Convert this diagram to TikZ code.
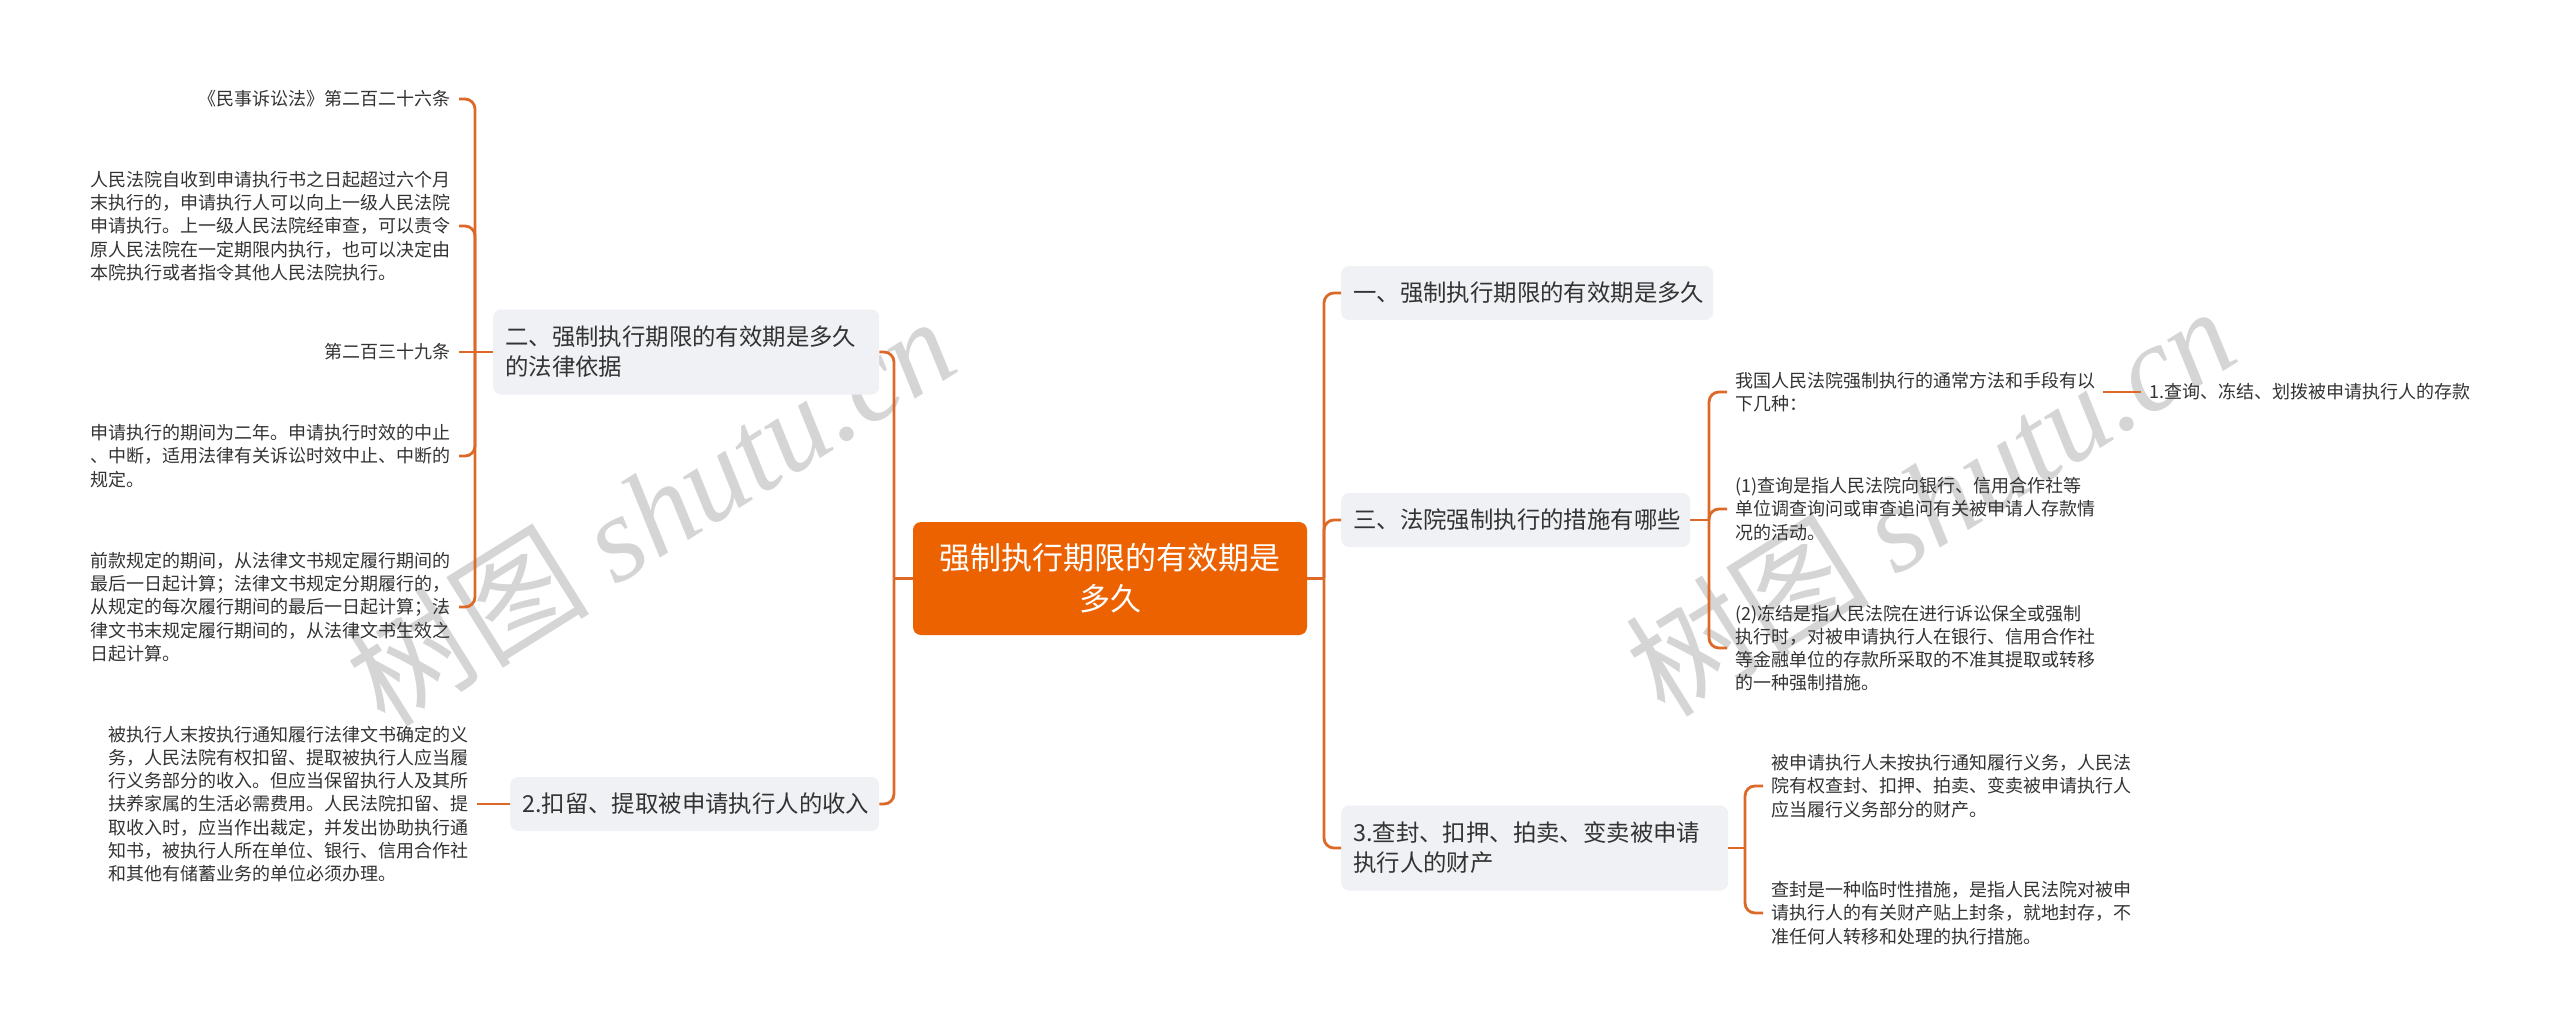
\documentclass[tikz,border=0pt]{standalone}
\usepackage{fontspec}
\setmainfont{Noto Sans CJK SC}
\newfontfamily\wmserif{Liberation Serif}
\definecolor{conncol}{RGB}{221,105,40}
\definecolor{rootcol}{RGB}{236,98,0}
\definecolor{boxcol}{RGB}{239,241,244}
\definecolor{txt}{RGB}{51,51,51}
\definecolor{wmcol}{RGB}{200,200,200}
\begin{document}
\begin{tikzpicture}[x=1bp,y=-1bp,
  conn/.style={draw=conncol, line width=2.8bp, rounded corners=10bp},
  root/.style={fill=rootcol, text=white, rounded corners=8bp, minimum width=394bp, minimum height=113bp, align=center, inner sep=0pt, font=\fontsize{31bp}{41bp}\selectfont},
  topic/.style={fill=boxcol, text=txt, rounded corners=8bp, align=left, inner xsep=12bp, inner ysep=0pt, font=\fontsize{23.4bp}{30bp}\selectfont},
  leaf/.style={text=txt, inner xsep=8bp, inner ysep=0pt, font=\fontsize{18bp}{23.2bp}\selectfont},
  wm/.style={text=wmcol, opacity=0.75, rotate=32, inner sep=0pt, font=\fontsize{122bp}{122bp}\selectfont}
]
\useasboundingbox (0,0) rectangle (2560,1034);
\fill[white] (0,0) rectangle (2560,1034);

% watermarks
\node[wm] (wm1) at (650,510) {树图 {\wmserif\itshape shutu.cn}};
\node[wm] (wm2) at (1930,500) {树图 {\wmserif\itshape shutu.cn}};

% root
\node[root] (c) at (1110,578.5) {强制执行期限的有效期是\\多久};

% left topics
\node[topic, anchor=west, text width=362bp, minimum height=85bp] (t2) at (493,352) {二、强制执行期限的有效期是多久\\的法律依据};
\node[topic, anchor=west, text width=345bp, minimum height=54bp] (tk) at (510,804) {2.扣留、提取被申请执行人的收入};

% right topics
\node[topic, anchor=west, text width=348bp, minimum height=54bp] (t1) at (1341,293) {一、强制执行期限的有效期是多久};
\node[topic, anchor=west, text width=325bp, minimum height=54bp] (t3) at (1341,520) {三、法院强制执行的措施有哪些};
\node[topic, anchor=west, text width=363bp, minimum height=85bp] (t4) at (1341,848) {3.查封、扣押、拍卖、变卖被申请\\执行人的财产};

% left leaves
\node[leaf, anchor=east] (l1) at (459,99) {《民事诉讼法》第二百二十六条};
\node[leaf, anchor=east, align=left] (l2) at (459,226) {人民法院自收到申请执行书之日起超过六个月\\末执行的，申请执行人可以向上一级人民法院\\申请执行。上一级人民法院经审查，可以责令\\原人民法院在一定期限内执行，也可以决定由\\本院执行或者指令其他人民法院执行。};
\node[leaf, anchor=east] (l3) at (459,352) {第二百三十九条};
\node[leaf, anchor=east, align=left] (l4) at (459,456) {申请执行的期间为二年。申请执行时效的中止\\、中断，适用法律有关诉讼时效中止、中断的\\规定。};
\node[leaf, anchor=east, align=left] (l5) at (459,607) {前款规定的期间，从法律文书规定履行期间的\\最后一日起计算；法律文书规定分期履行的，\\从规定的每次履行期间的最后一日起计算；法\\律文书末规定履行期间的，从法律文书生效之\\日起计算。};
\node[leaf, anchor=east, align=left] (l6) at (477,804) {被执行人末按执行通知履行法律文书确定的义\\务，人民法院有权扣留、提取被执行人应当履\\行义务部分的收入。但应当保留执行人及其所\\扶养家属的生活必需费用。人民法院扣留、提\\取收入时，应当作出裁定，并发出协助执行通\\知书，被执行人所在单位、银行、信用合作社\\和其他有储蓄业务的单位必须办理。};

% right leaves
\node[leaf, anchor=west, align=left] (r1) at (1727,392) {我国人民法院强制执行的通常方法和手段有以\\下几种：};
\node[leaf, anchor=west, align=left] (r2) at (1727,509) {(1)查询是指人民法院向银行、信用合作社等\\单位调查询问或审查追问有关被申请人存款情\\况的活动。};
\node[leaf, anchor=west, align=left] (r3) at (1727,648) {(2)冻结是指人民法院在进行诉讼保全或强制\\执行时，对被申请执行人在银行、信用合作社\\等金融单位的存款所采取的不准其提取或转移\\的一种强制措施。};
\node[leaf, anchor=west] (g1) at (2141,392) {1.查询、冻结、划拨被申请执行人的存款};
\node[leaf, anchor=west, align=left] (s1) at (1763,786) {被申请执行人未按执行通知履行义务，人民法\\院有权查封、扣押、拍卖、变卖被申请执行人\\应当履行义务部分的财产。};
\node[leaf, anchor=west, align=left] (s2) at (1763,913) {查封是一种临时性措施，是指人民法院对被申\\请执行人的有关财产贴上封条，就地封存，不\\准任何人转移和处理的执行措施。};

% junctions
\coordinate (jl) at (894,578.5);
\coordinate (jr) at (1324,578.5);
\coordinate (j2) at (475,352);
\coordinate (j3) at (1709,520);
\coordinate (j4) at (1745,848);

% main connectors
\draw[conn] (c.west) -- (jl);
\draw[conn] (jl) |- (t2.east);
\draw[conn] (jl) |- (tk.east);
\draw[conn] (c.east) -- (jr);
\draw[conn] (jr) |- (t1.west);
\draw[conn] (jr) |- (t3.west);
\draw[conn] (jr) |- (t4.west);

% left subtree
\draw[conn] (t2.west) -- (j2);
\draw[conn] (j2) |- (l1.east);
\draw[conn] (j2) |- (l2.east);
\draw[conn] (j2) -- (l3.east);
\draw[conn] (j2) |- (l4.east);
\draw[conn] (j2) |- (l5.east);
\draw[conn] (tk.west) -- (l6.east);

% right subtrees
\draw[conn] (t3.east) -- (j3);
\draw[conn] (j3) |- (r1.west);
\draw[conn] (j3) |- (r2.west);
\draw[conn] (j3) |- (r3.west);
\draw[conn] (r1.east) -- (g1.west);
\draw[conn] (t4.east) -- (j4);
\draw[conn] (j4) |- (s1.west);
\draw[conn] (j4) |- (s2.west);
\end{tikzpicture}
\end{document}
